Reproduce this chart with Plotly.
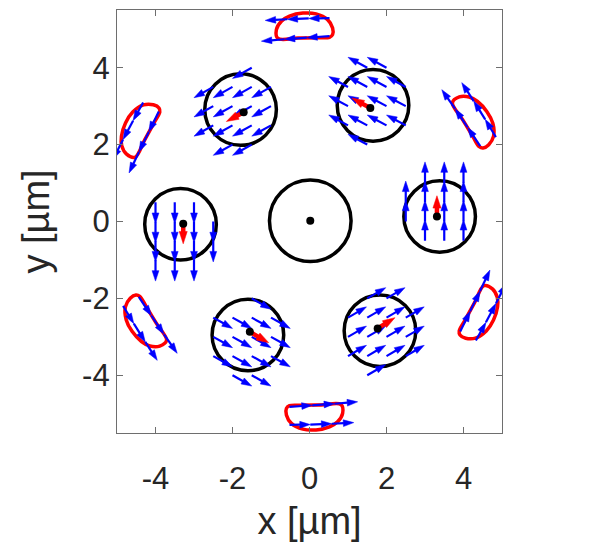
import numpy as np
import plotly.graph_objects as go

# ---------------- data ----------------
# particle centres (black dots) and their outlines
particle_x = [3.31, 1.58, -1.71, -3.28, -1.55, 1.77]
particle_y = [0.13, 2.95, 2.84, -0.06, -2.87, -2.78]
ring_x = [3.38, 1.65, -1.79, -3.35, -1.60, 1.83]
ring_y = [0.13, 3.02, 2.91, -0.07, -2.95, -2.84]
ring_r = [0.93, 0.93, 0.93, 0.93, 0.93, 0.93]
central_x = [0.02]
central_y = [0.02]
central_r = [1.06]

# particle velocity (red arrows)
red_u = [0.0, -0.48, -0.45, 0.0, 0.49, 0.45]
red_v = [0.54, 0.26, -0.24, -0.52, -0.28, 0.28]

# flow field around each particle (blue arrows, tails + vector)
right_field_x = [2.5, 2.5, 3.0, 3.0, 3.0, 3.0, 3.5, 3.5, 3.5, 3.5, 4.0, 4.0, 4.0, 4.0]
right_field_y = [0.0, 0.5, -0.5, 0.0, 0.5, 1.0, -0.5, 0.0, 0.5, 1.0, -0.5, 0.0, 0.5, 1.0]
right_field_uv = [0.0, 0.55]

left_field_x = [-2.5, -2.5, -3.0, -3.0, -3.0, -3.0, -3.5, -3.5, -3.5, -3.5, -4.0, -4.0, -4.0, -4.0]
left_field_y = [0.0, -0.5, 0.5, 0.0, -0.5, -1.0, 0.5, 0.0, -0.5, -1.0, 0.5, 0.0, -0.5, -1.0]
left_field_uv = [0.0, -0.55]

upright_field_x = [1.5, 2.0, 1.0, 1.5, 2.0, 2.5, 1.0, 1.5, 2.0, 2.5, 1.0, 1.5, 2.0, 2.5, 1.5]
upright_field_y = [4.0, 4.0, 3.5, 3.5, 3.5, 3.5, 3.0, 3.0, 3.0, 3.0, 2.5, 2.5, 2.5, 2.5, 2.0]
upright_field_uv = [-0.50, 0.27]

upleft_field_x = [-1.5, -2.5, -2.0, -1.5, -1.0, -2.5, -2.0, -1.5, -1.0, -2.5, -2.0, -1.5, -1.0, -2.0, -1.5]
upleft_field_y = [4.0, 3.5, 3.5, 3.5, 3.5, 3.0, 3.0, 3.0, 3.0, 2.5, 2.5, 2.5, 2.5, 2.0, 2.0]
upleft_field_uv = [-0.50, -0.28]

lowleft_field_x = [-1.5, -2.5, -2.0, -1.5, -1.0, -2.5, -2.0, -1.5, -1.0, -2.5, -2.0, -1.5, -1.0, -2.0, -1.5]
lowleft_field_y = [-2.0, -2.5, -2.5, -2.5, -2.5, -3.0, -3.0, -3.0, -3.0, -3.5, -3.5, -3.5, -3.5, -4.0, -4.0]
lowleft_field_uv = [0.50, -0.28]

lowright_field_x = [1.5, 2.0, 1.0, 1.5, 2.0, 2.5, 1.0, 1.5, 2.0, 2.5, 1.0, 1.5, 2.0, 2.5, 1.5]
lowright_field_y = [-2.0, -2.0, -2.5, -2.5, -2.5, -2.5, -3.0, -3.0, -3.0, -3.0, -3.5, -3.5, -3.5, -3.5, -4.0]
lowright_field_uv = [0.48, 0.28]

# tracer orbit (red loop) measured at the top position
loop_x = [-0.82, -0.86, -0.73, -0.52, -0.17, 0.17, 0.47, 0.60, 0.60, 0.52, 0.20, -0.30, -0.82]
loop_y = [4.76, 4.99, 5.21, 5.34, 5.42, 5.40, 5.25, 5.03, 4.86, 4.79, 4.78, 4.77, 4.76]
# tracer velocities along the top orbit (tails + vectors)
loop_arrow_x = [0.52, -0.02, -0.58, 0.52, -0.07, -0.65]
loop_arrow_y = [5.29, 5.28, 5.26, 4.82, 4.78, 4.74]
loop_arrow_u = [-0.54, -0.56, -0.57, -0.59, -0.58, -0.60]
loop_arrow_v = [-0.01, -0.02, -0.03, -0.04, -0.04, -0.05]
# the six orbits are the same orbit repeated every 60 degrees
loop_angles = [0, 60, 120, 180, 240, 300]

xtick_vals = [-4, -2, 0, 2, 4]
xtick_text = ["-4", "-2", "0", "2", "4"]
ytick_vals = [-4, -2, 0, 2, 4]
ytick_text = ["-4", "-2", "0", "2", "4"]

# ---------------- figure ----------------
fig = go.Figure()


def rot(xs, ys, deg):
    a = np.deg2rad(deg)
    xs = np.asarray(xs, float)
    ys = np.asarray(ys, float)
    return xs * np.cos(a) - ys * np.sin(a), xs * np.sin(a) + ys * np.cos(a)


def quiver_trace(xs, ys, us, vs, color, width, head):
    px, py, sz = [], [], []
    for x0, y0, u, v in zip(xs, ys, us, vs):
        px += [float(x0), float(x0 + u), None]
        py += [float(y0), float(y0 + v), None]
        sz += [0, head, 0]
    return go.Scatter(
        x=px, y=py, mode="lines+markers",
        line=dict(color=color, width=width),
        marker=dict(symbol="arrow", size=sz, angleref="previous", color=color,
                    opacity=1, line=dict(width=0.5, color=color)),
        hoverinfo="skip", showlegend=False,
    )


# red loops
for ang in loop_angles:
    lx, ly = rot(loop_x, loop_y, ang)
    fig.add_trace(go.Scatter(x=lx, y=ly, mode="lines",
                             line=dict(color="#ff0000", width=3.5, shape="spline"),
                             hoverinfo="skip", showlegend=False))

# circles (below the arrows)
shapes = []
for cx, cy, r in zip(ring_x + central_x, ring_y + central_y, ring_r + central_r):
    shapes.append(dict(type="circle", xref="x", yref="y", x0=cx - r, x1=cx + r,
                       y0=cy - r, y1=cy + r, line=dict(color="black", width=3.5),
                       layer="below"))

# blue flow fields
bx, by, bu, bv = [], [], [], []
groups = [
    (right_field_x, right_field_y, right_field_uv),
    (left_field_x, left_field_y, left_field_uv),
    (upright_field_x, upright_field_y, upright_field_uv),
    (upleft_field_x, upleft_field_y, upleft_field_uv),
    (lowleft_field_x, lowleft_field_y, lowleft_field_uv),
    (lowright_field_x, lowright_field_y, lowright_field_uv),
]
for gx, gy, uv in groups:
    bx += list(gx)
    by += list(gy)
    bu += [uv[0]] * len(gx)
    bv += [uv[1]] * len(gx)
for ang in loop_angles:
    tx, ty = rot(loop_arrow_x, loop_arrow_y, ang)
    tu, tv = rot(loop_arrow_u, loop_arrow_v, ang)
    bx += list(tx)
    by += list(ty)
    bu += list(tu)
    bv += list(tv)
fig.add_trace(quiver_trace(bx, by, bu, bv, "#0000ff", 2.2, 11))

# red particle velocity arrows
fig.add_trace(quiver_trace(particle_x, particle_y, red_u, red_v, "#ff0000", 4.5, 13))

# black dots
fig.add_trace(go.Scatter(x=particle_x + central_x, y=particle_y + central_y, mode="markers",
                         marker=dict(color="black", size=8), hoverinfo="skip", showlegend=False))

font_family = "Liberation Sans, Arial, Helvetica, sans-serif"
axis_common = dict(
    showgrid=False, zeroline=False, showline=True, mirror="ticks",
    linecolor="#6e6e6e", linewidth=1.3, ticks="inside", ticklen=6,
    tickcolor="#6e6e6e", tickwidth=1.3, automargin=False,
    tickfont=dict(family=font_family, size=31, color="#262626"),
    title_font=dict(family=font_family, size=38, color="#262626"),
)

# the page body adds an 8 px offset, so the figure is 8 px smaller than the window
fig.update_layout(
    width=607, height=545,
    margin=dict(l=109, r=113, t=2, b=120),
    paper_bgcolor="white", plot_bgcolor="white",
    shapes=shapes,
    xaxis=dict(range=[-5, 5], tickvals=xtick_vals, ticktext=xtick_text,
               title=dict(text="x [µm]", standoff=12), ticklabelstandoff=18, **axis_common),
    yaxis=dict(range=[-5.5, 5.5], tickvals=ytick_vals, ticktext=ytick_text,
               title=dict(text="y [µm]", standoff=20), **axis_common),
)

fig.write_html("out.html")
